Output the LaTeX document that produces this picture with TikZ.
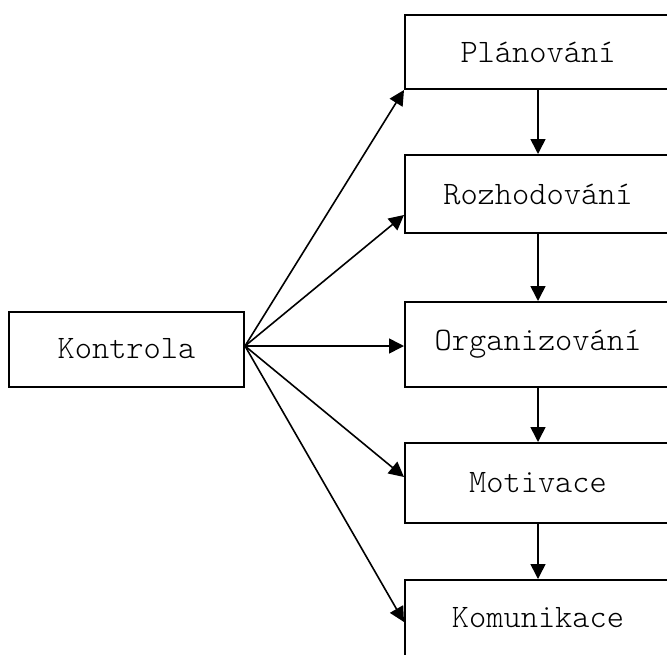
\documentclass[tikz,border=0pt]{standalone}
\usepackage{fontspec}
\setmonofont{Latin Modern Mono Light}
\usetikzlibrary{arrows.meta}
\begin{document}
\begin{tikzpicture}[x=1pt,y=-1pt,
  box/.style={draw=black,line width=2pt,fill=white,minimum width=266pt,inner sep=0pt,
    font=\ttfamily\fontsize{32.8}{38}\selectfont},
  conn/.style={line width=1.6pt,-{Triangle[length=15pt,width=15pt]}}]
\useasboundingbox (0,0) rectangle (667,654);
\clip (0,0) rectangle (667,654);
\node[box,minimum width=235pt,minimum height=75pt] (kon) at (126.5,349) {Kontrola};
\node[box,minimum height=74pt] (pla) at (538,52) {Plánování};
\node[box,minimum height=78pt] (roz) at (538,194) {Rozhodování};
\node[box,minimum height=85pt] (org) at (538,344.5) {Organizování};
\node[box,minimum height=80pt] (mot) at (538,483) {Motivace};
\node[box,minimum height=76pt] (kom) at (538,618) {Komunikace};
\coordinate (src) at ([yshift=3pt]kon.east);
\draw[conn] (src) -- (pla.south west);
\draw[conn] (src) -- ([yshift=-21pt]roz.west);
\draw[conn] (src) -- ([yshift=-1.5pt]org.west);
\draw[conn] (src) -- ([yshift=6pt]mot.west);
\draw[conn] (src) -- ([yshift=-4pt]kom.west);
\draw[conn] (pla.south) -- (roz.north);
\draw[conn] (roz.south) -- (org.north);
\draw[conn] (org.south) -- (mot.north);
\draw[conn] (mot.south) -- (kom.north);
\end{tikzpicture}
\end{document}
